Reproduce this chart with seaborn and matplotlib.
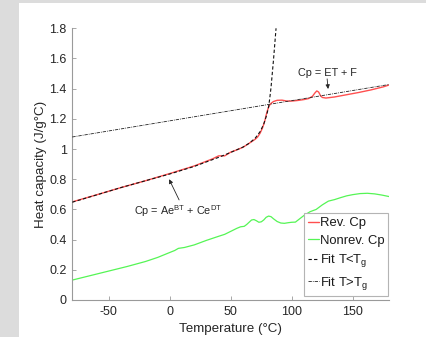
import matplotlib
matplotlib.use("Agg")
import matplotlib.pyplot as plt
from matplotlib.patches import Rectangle
from matplotlib.ticker import FuncFormatter
import seaborn as sns

# Reversing heat capacity (°C, J/g°C)
temp_rev = [-80, -60, -40, -20, 0, 20, 35, 40, 45, 50, 55, 60, 65, 70, 72, 74, 76,
            78, 79, 80, 81, 82, 83, 85, 88, 92, 96, 100, 105, 110, 114, 117, 119,
            120.5, 122, 123.5, 125, 128, 135, 145, 155, 165, 175, 180]
cp_rev = [0.650, 0.697, 0.745, 0.790, 0.838, 0.888, 0.935, 0.955, 0.955, 0.980, 0.995,
          1.012, 1.038, 1.065, 1.080, 1.105, 1.140, 1.190, 1.225, 1.255, 1.278, 1.293,
          1.303, 1.315, 1.323, 1.324, 1.318, 1.318, 1.322, 1.328, 1.335, 1.350, 1.372,
          1.385, 1.378, 1.355, 1.342, 1.338, 1.345, 1.360, 1.375, 1.392, 1.412, 1.425]

# Non-reversing heat capacity
temp_nonrev = [-80, -65, -50, -35, -20, -10, 0, 4, 7, 12, 20, 30, 40, 45, 50, 55, 58,
               61, 63, 65, 67, 69, 71, 73, 75, 77, 79, 81, 83, 85, 88, 91, 94, 97, 100,
               103, 106, 110, 115, 120, 125, 130, 135, 140, 145, 150, 156, 162, 168,
               174, 180]
cp_nonrev = [0.132, 0.162, 0.192, 0.222, 0.255, 0.282, 0.315, 0.328, 0.342, 0.348,
             0.365, 0.395, 0.422, 0.435, 0.455, 0.475, 0.485, 0.488, 0.500, 0.515,
             0.530, 0.533, 0.525, 0.515, 0.518, 0.530, 0.548, 0.556, 0.552, 0.538,
             0.520, 0.510, 0.508, 0.512, 0.515, 0.516, 0.535, 0.560, 0.585, 0.600,
             0.630, 0.655, 0.665, 0.678, 0.690, 0.698, 0.705, 0.707, 0.703, 0.695,
             0.685]

# Double-exponential fit below Tg
temp_fit_low = [-80, -40, 0, 20, 40, 50, 60, 65, 70, 74, 77, 79, 80, 81, 82, 83, 84,
                85, 86, 87.1]
cp_fit_low = [0.648, 0.745, 0.835, 0.885, 0.945, 0.978, 1.013, 1.038, 1.072, 1.115,
              1.165, 1.215, 1.245, 1.280, 1.340, 1.410, 1.500, 1.590, 1.690, 1.800]

# Linear fit above Tg
temp_fit_high = [-80, 180]
cp_fit_high = [1.080, 1.428]

series_labels = ["Rev. Cp", "Nonrev. Cp", "Fit T<T$_\\mathrm{g}$", "Fit T>T$_\\mathrm{g}$"]
x_ticks = [-50, 0, 50, 100, 150]
y_ticks = [0, 0.2, 0.4, 0.6, 0.8, 1.0, 1.2, 1.4, 1.6, 1.8]

sns.set_theme(style="white")
plt.rcParams["font.family"] = ["Liberation Sans", "DejaVu Sans"]
plt.rcParams["mathtext.fontset"] = "custom"
plt.rcParams["mathtext.rm"] = "Liberation Sans"
plt.rcParams["mathtext.it"] = "Liberation Sans:italic"
plt.rcParams["mathtext.bf"] = "Liberation Sans:bold"
plt.rcParams["axes.unicode_minus"] = False

fig = plt.figure(figsize=(4.26, 3.37), dpi=100, facecolor="#dcdcdc")
fig.patches.append(Rectangle((19 / 426, 0), 1 - 19 / 426, 1 - 3 / 337,
                             transform=fig.transFigure, facecolor="white",
                             edgecolor="none", zorder=-5))
ax = fig.add_axes([0.1697, 0.1098, 0.9139 - 0.1697, 0.916 - 0.1098])
ax.set_zorder(2)
ax.set_facecolor("white")

sns.lineplot(x=temp_rev, y=cp_rev, ax=ax, color="#ff4f4f", lw=1.0,
             label=series_labels[0], sort=False, estimator=None, zorder=2)
sns.lineplot(x=temp_nonrev, y=cp_nonrev, ax=ax, color="#55f555", lw=0.9,
             label=series_labels[1], sort=False, estimator=None, zorder=2)
sns.lineplot(x=temp_fit_low, y=cp_fit_low, ax=ax, color="#111111", lw=0.8,
             linestyle=(0, (3, 2)), label=series_labels[2], sort=False,
             estimator=None, zorder=3)
sns.lineplot(x=temp_fit_high, y=cp_fit_high, ax=ax, color="#222222", lw=0.6,
             linestyle=(0, (4, 1.2, 1, 1.2)), label=series_labels[3], sort=False,
             estimator=None, zorder=3)

ax.set_xlim(-80, 180)
ax.set_ylim(0, 1.8)
ax.set_xticks(x_ticks)
ax.set_yticks(y_ticks)
ax.yaxis.set_major_formatter(FuncFormatter(lambda v, p: f"{v:g}"))
ax.xaxis.set_major_formatter(FuncFormatter(lambda v, p: f"{v:g}"))

for side in ("top", "right"):
    ax.spines[side].set_visible(False)
for side in ("left", "bottom"):
    ax.spines[side].set_color("#9a9a9a")
    ax.spines[side].set_linewidth(0.8)
ax.tick_params(direction="in", length=3, width=0.6, color="#9a9a9a",
               labelsize=9.0, labelcolor="#262626", pad=4,
               bottom=True, left=True, top=False, right=False)

ax.set_xlabel("Temperature (°C)", fontsize=9.6, color="#262626")
ax.set_ylabel("Heat capacity (J/g°C)", fontsize=9.6, color="#262626")
ax.xaxis.set_label_coords(0.5, -0.107)
ax.xaxis.label.set_verticalalignment("center")
ax.yaxis.set_label_coords(-0.098, 0.5)
ax.yaxis.label.set_verticalalignment("center")

arrow_kw = dict(arrowstyle="-|>", color="#262626", lw=0.6, mutation_scale=6,
                shrinkA=0, shrinkB=0)
ax.annotate("", xy=(-0.6, 0.80), xytext=(7.6, 0.663), arrowprops=arrow_kw)
ax.text(7.0, 0.563, "Cp = Ae$^{\\mathrm{BT}}$ + Ce$^{\\mathrm{DT}}$", ha="center",
        va="baseline", fontsize=7.8, color="#262626")
ax.annotate("", xy=(129.8, 1.398), xytext=(129.0, 1.465), arrowprops=arrow_kw)
ax.text(129.0, 1.484, "Cp = ET + F", ha="center", va="baseline", fontsize=7.8,
        color="#262626")

handles, labels = ax.get_legend_handles_labels()
leg = ax.legend(handles, labels, loc="upper left", bbox_to_anchor=(0.731, 0.320),
                borderaxespad=0, fontsize=9.4, handlelength=0.85, handletextpad=0.05,
                labelspacing=0.42, borderpad=0.3, frameon=True, fancybox=False,
                edgecolor="#b4b4b4", framealpha=1)
leg.get_frame().set_linewidth(0.8)
for t in leg.get_texts():
    t.set_color("#1a1a1a")
leg.set_zorder(5)

fig.savefig("out.png", dpi=100, facecolor=fig.get_facecolor())
